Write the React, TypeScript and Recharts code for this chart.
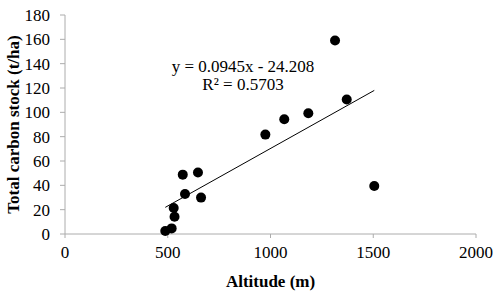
import { ScatterChart, Scatter, XAxis, YAxis, Label } from "recharts";

// altitude (m) vs total carbon stock (t/ha)
const altitude = [488, 519, 529, 533, 573, 584, 647, 662, 975, 1067, 1184, 1314, 1371, 1505];
const carbon = [2.5, 4.6, 21.4, 14.2, 48.8, 32.9, 50.5, 29.9, 81.7, 94.3, 99.3, 159, 110.5, 39.5];

const xTicks = [0, 500, 1000, 1500, 2000];
const yTicks = [0, 20, 40, 60, 80, 100, 120, 140, 160, 180];

const slope = 0.0945;
const intercept = -24.208;
const r2 = 0.5703;

const points = altitude.map((x, i) => ({ x, y: carbon[i] }));
const xMin = Math.min(...altitude);
const xMax = Math.max(...altitude);
const trend = [xMin, xMax].map((x) => ({ x, y: slope * x + intercept }));

const font = "'Liberation Serif', 'Times New Roman', serif";
const axisGray = "#acacac";

export default function App() {
  return (
    <div style={{ position: "absolute", left: 0, top: 0, width: 500, height: 294, background: "#fff" }}>
      <ScatterChart width={500} height={294} margin={{ top: 15, right: 24, bottom: 0, left: 0 }}>
        <XAxis
          type="number"
          dataKey="x"
          domain={[0, 2000]}
          ticks={xTicks}
          interval={0}
          stroke={axisGray}
          tickSize={4}
          tickMargin={8}
          height={60}
          tick={{ fill: "#000", fontFamily: font, fontSize: 17 }}
        >
          <Label
            value="Altitude (m)"
            position="insideBottom"
            offset={7}
            style={{ fontFamily: font, fontSize: 17, fontWeight: "bold", fill: "#000" }}
          />
        </XAxis>
        <YAxis
          type="number"
          dataKey="y"
          domain={[0, 180]}
          ticks={yTicks}
          interval={0}
          stroke={axisGray}
          tickSize={5}
          tickMargin={10}
          width={65}
          tick={{ fill: "#000", fontFamily: font, fontSize: 17 }}
        >
          <Label
            value="Total carbon stock (t/ha)"
            angle={-90}
            position="insideLeft"
            offset={13}
            style={{ textAnchor: "middle", fontFamily: font, fontSize: 17, fontWeight: "bold", fill: "#000" }}
          />
        </YAxis>
        <Scatter data={trend} line={{ stroke: "#000", strokeWidth: 1 }} shape={() => null} isAnimationActive={false} />
        <Scatter
          data={points}
          fill="#000"
          isAnimationActive={false}
          shape={(p: any) => <circle cx={p.cx} cy={p.cy} r={5} fill="#000" />}
        />
        <text x={243} y={72} textAnchor="middle" style={{ fontFamily: font, fontSize: 17 }} fill="#000">
          {`y = ${slope}x - ${Math.abs(intercept).toFixed(3)}`}
        </text>
        <text x={243} y={90} textAnchor="middle" style={{ fontFamily: font, fontSize: 17 }} fill="#000">
          {`R² = ${r2}`}
        </text>
      </ScatterChart>
    </div>
  );
}
